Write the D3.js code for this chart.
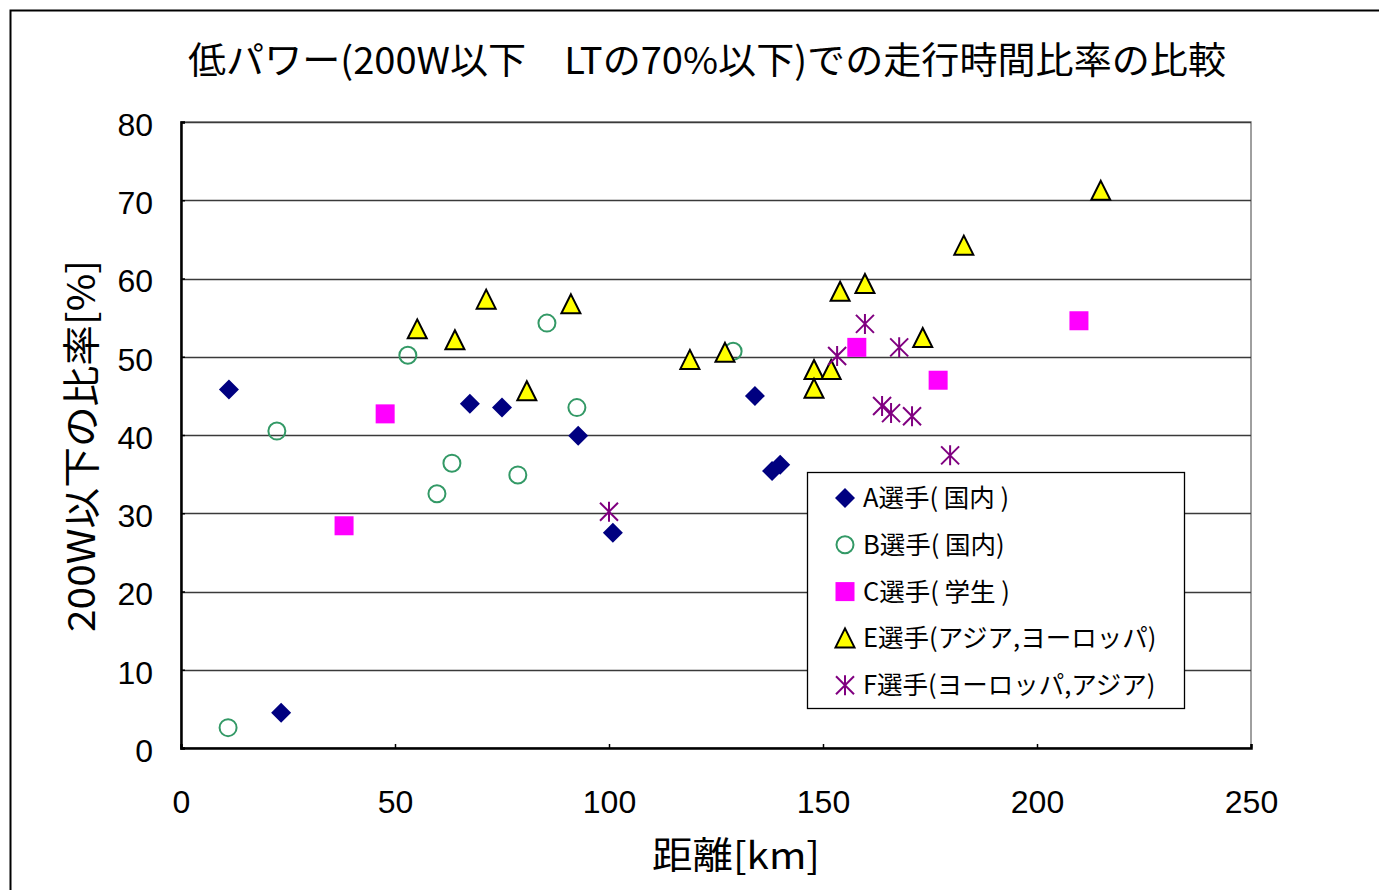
<!DOCTYPE html>
<html><head><meta charset="utf-8">
<script src="https://cdn.jsdelivr.net/npm/d3@7"></script>
<style>body{margin:0;background:#fff}svg{display:block}</style>
</head><body>
<script>
const titleText = "低パワー(200W以下　LTの70%以下)での走行時間比率の比較";
const xLabel = "距離[km]";
const yLabel = "200W以下の比率[%]";
const xTicks = [0, 50, 100, 150, 200, 250];
const yTicks = [0, 10, 20, 30, 40, 50, 60, 70, 80];

const legendLabels = ["A選手( 国内 )", "B選手( 国内)", "C選手( 学生 )", "E選手(アジア,ヨーロッパ)", "F選手(ヨーロッパ,アジア)"];

const seriesA = [[11.2,45.8],[23.4,4.5],[67.5,44.0],[75.0,43.5],[92.8,39.9],[100.9,27.5],[134.1,45.0],[138.1,35.4],[140.0,36.2]];
const seriesB = [[11.0,2.6],[22.4,40.5],[53.0,50.2],[63.3,36.4],[59.8,32.5],[78.7,34.9],[85.5,54.3],[92.5,43.5],[129.0,50.7]];
const seriesC = [[38.1,28.4],[47.7,42.7],[157.9,51.2],[176.9,47.0],[209.8,54.6]];
const seriesE = [[55.2,53.5],[64.0,52.1],[71.3,57.3],[80.8,45.6],[91.1,56.7],[118.9,49.6],[127.1,50.5],[147.9,48.3],[147.9,45.9],[151.9,48.3],[154.0,58.3],[159.8,59.3],[173.3,52.4],[182.9,64.2],[214.9,71.2]];
const seriesF = [[100.0,30.2],[153.3,50.1],[159.8,54.2],[167.8,51.2],[163.8,43.7],[165.9,42.8],[170.8,42.4],[179.7,37.4]];

const W = 1379, H = 890;
const svg = d3.select("body").append("svg").attr("width", W).attr("height", H);
const jp = "'Noto Sans CJK JP', sans-serif";
const num = "'Liberation Sans', Arial, sans-serif";

// outer frame
svg.append("rect").attr("x", 10.5).attr("y", 10.5).attr("width", W + 20).attr("height", H + 20)
  .attr("fill", "#fff").attr("stroke", "#000").attr("stroke-width", 2);

const x = d3.scaleLinear().domain([0, 250]).range([181, 1251]);
const y = d3.scaleLinear().domain([0, 80]).range([748, 122]);

// plot area border
svg.append("rect").attr("x", 181).attr("y", 122).attr("width", 1070).attr("height", 626)
  .attr("fill", "none").attr("stroke", "#808080").attr("stroke-width", 1.5);

// gridlines
svg.append("g").selectAll("line").data(yTicks.filter(d => d > 0)).join("line")
  .attr("x1", 181).attr("x2", 1251).attr("y1", d => Math.round(y(d)) + 0.5).attr("y2", d => Math.round(y(d)) + 0.5)
  .attr("stroke", "#3a3a3a").attr("stroke-width", 1.3);

// axes
const yAxis = svg.append("g").attr("transform", "translate(181,0)")
  .call(d3.axisLeft(y).tickValues(yTicks).tickSize(-4).tickPadding(28).tickFormat(d3.format("d")));
const xAxis = svg.append("g").attr("transform", "translate(0,748)")
  .call(d3.axisBottom(x).tickValues(xTicks).tickSize(-4).tickPadding(42).tickFormat(d3.format("d")));
[yAxis, xAxis].forEach(g => {
  g.select(".domain").attr("stroke", "#000").attr("stroke-width", 2.5);
  g.selectAll(".tick line").attr("stroke", "#000").attr("stroke-width", 1.5);
  g.selectAll("text").attr("font-family", num).attr("font-size", 32).attr("fill", "#000");
});
yAxis.selectAll("text").attr("dy", "0.42em");

// titles
svg.append("text").attr("x", 707).attr("y", 74).attr("text-anchor", "middle")
  .attr("font-family", jp).attr("font-size", 37).attr("textLength", 1038).attr("lengthAdjust", "spacingAndGlyphs")
  .text(titleText);
svg.append("text").attr("x", 736).attr("y", 869).attr("text-anchor", "middle")
  .attr("font-family", jp).attr("font-size", 37).attr("textLength", 168).attr("lengthAdjust", "spacingAndGlyphs")
  .text(xLabel);
svg.append("text").attr("transform", "translate(95,446) rotate(-90)").attr("text-anchor", "middle")
  .attr("font-family", jp).attr("font-size", 38).attr("textLength", 372).attr("lengthAdjust", "spacingAndGlyphs")
  .text(yLabel);

// marker drawing
function drawMarker(g, type) {
  if (type === 0) {
    g.append("path").attr("d", "M0,-10L10,0L0,10L-10,0Z").attr("fill", "#000080");
  } else if (type === 1) {
    g.append("circle").attr("r", 8.5).attr("fill", "none").attr("stroke", "#339966").attr("stroke-width", 2);
  } else if (type === 2) {
    g.append("rect").attr("x", -9.5).attr("y", -9.5).attr("width", 19).attr("height", 19).attr("fill", "#ff00ff");
  } else if (type === 3) {
    g.append("path").attr("d", "M0,-10L9.5,9L-9.5,9Z").attr("fill", "#ffff00").attr("stroke", "#000").attr("stroke-width", 2).attr("stroke-linejoin", "miter");
  } else {
    g.append("path").attr("d", "M0,-10L0,10M-9,-9L9,9M-9,9L9,-9").attr("fill", "none").attr("stroke", "#800080").attr("stroke-width", 2);
  }
}

const allSeries = [seriesA, seriesB, seriesC, seriesE, seriesF];
allSeries.forEach((data, i) => {
  const grp = svg.append("g").attr("class", "series-" + i);
  data.forEach(d => {
    const m = grp.append("g").attr("transform", `translate(${x(d[0])},${y(d[1])})`);
    drawMarker(m, i);
  });
});

// legend
const lg = svg.append("g");
lg.append("rect").attr("x", 807.5).attr("y", 472.5).attr("width", 377).attr("height", 236)
  .attr("fill", "#fff").attr("stroke", "#000").attr("stroke-width", 1.3);
legendLabels.forEach((lab, i) => {
  const cy = 498 + i * 46.8;
  const m = lg.append("g").attr("transform", `translate(845,${cy})`);
  drawMarker(m, i);
  lg.append("text").attr("x", 863).attr("y", cy + 9).attr("font-family", jp).attr("font-size", 25.5).attr("fill", "#000").text(lab);
});
</script>
</body></html>
